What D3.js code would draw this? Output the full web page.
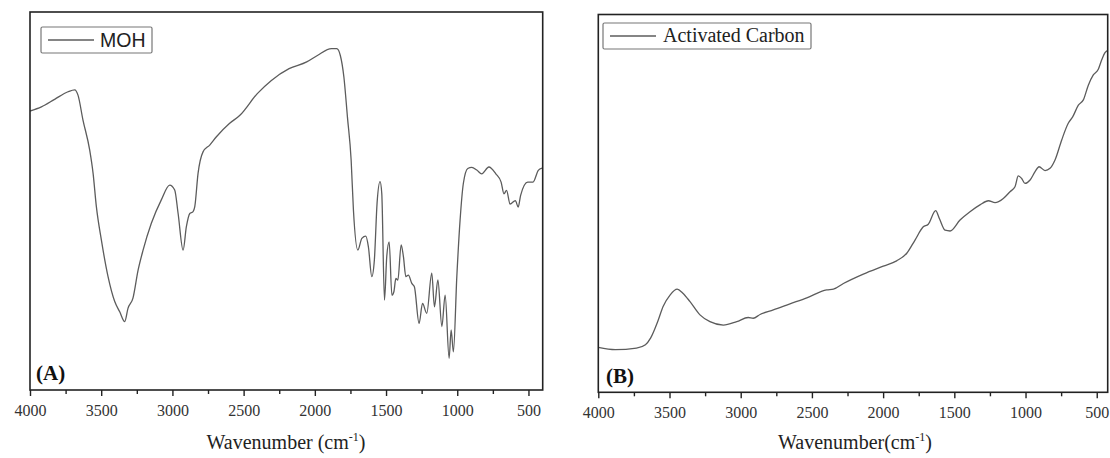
<!DOCTYPE html>
<html>
<head>
<meta charset="utf-8">
<script src="https://cdn.jsdelivr.net/npm/d3@7"></script>
<style>
  body { margin: 0; background: #fff; }
  svg { display: block; }
</style>
</head>
<body>
<div id="chart"></div>
<script>
// FTIR spectra, values are relative transmittance (0 = bottom of frame, 100 = top)
const MOH_WAVENUMBER = [4000, 3920, 3827, 3733, 3686, 3663, 3628, 3581, 3557, 3534, 3499, 3452, 3405, 3370, 3335, 3312, 3277, 3241, 3206, 3148, 3078, 3019, 2984, 2960, 2925, 2902, 2878, 2855, 2843, 2820, 2785, 2738, 2691, 2600, 2528, 2404, 2305, 2181, 2057, 1982, 1883, 1846, 1821, 1796, 1771, 1745, 1729, 1698, 1670, 1642, 1624, 1600, 1582, 1563, 1542, 1530, 1511, 1495, 1478, 1459, 1445, 1431, 1417, 1394, 1378, 1361, 1343, 1319, 1301, 1268, 1244, 1214, 1179, 1160, 1136, 1108, 1085, 1057, 1043, 1027, 1003, 980, 957, 926, 898, 863, 828, 778, 729, 692, 672, 654, 629, 592, 572, 555, 505, 468, 431, 405];
const MOH_SIGNAL = [73.8, 74.9, 76.9, 78.9, 79.4, 78.0, 71.4, 63.5, 57.3, 48.5, 39.7, 30.0, 23.4, 20.7, 18.1, 21.6, 24.3, 31.7, 37.0, 44.1, 50.3, 54.2, 52.9, 46.7, 37.0, 43.2, 46.7, 47.2, 48.5, 57.3, 63.0, 64.8, 67.0, 70.5, 72.6, 78.4, 81.9, 85.0, 86.8, 88.5, 90.3, 90.3, 88.5, 82.8, 72.2, 60.8, 47.6, 37.0, 40.1, 40.7, 37.9, 30.0, 34.4, 49.4, 55.1, 52.0, 23.8, 35.3, 39.2, 25.1, 26.0, 29.5, 29.1, 38.4, 35.3, 30.0, 30.4, 28.2, 27.3, 17.6, 22.9, 20.3, 30.9, 22.0, 29.1, 16.8, 25.1, 8.4, 15.9, 10.1, 30.0, 45.0, 54.7, 58.6, 58.9, 58.2, 57.2, 59.0, 57.2, 55.0, 51.9, 52.8, 49.2, 50.1, 48.4, 51.5, 55.0, 55.0, 58.1, 58.7];

const AC_WAVENUMBER = [4000, 3881, 3732, 3669, 3632, 3582, 3545, 3495, 3446, 3408, 3356, 3286, 3216, 3122, 3028, 2947, 2912, 2864, 2771, 2654, 2536, 2396, 2349, 2279, 2139, 1999, 1905, 1834, 1776, 1718, 1683, 1631, 1605, 1565, 1530, 1460, 1390, 1320, 1261, 1214, 1156, 1109, 1074, 1051, 1027, 1004, 968, 933, 905, 863, 828, 793, 746, 700, 669, 629, 594, 559, 524, 489, 465, 442, 418];
const AC_SIGNAL = [11.9, 11.3, 11.7, 12.6, 14.4, 18.8, 22.7, 25.8, 27.3, 26.3, 24.0, 20.5, 18.7, 17.8, 18.7, 19.8, 19.6, 20.6, 21.8, 23.4, 25.0, 27.1, 27.3, 28.8, 31.3, 33.4, 34.8, 36.8, 40.3, 43.8, 44.5, 48.1, 46.0, 42.9, 42.7, 45.6, 47.8, 49.6, 50.7, 50.2, 51.3, 53.1, 54.4, 57.3, 56.6, 55.3, 56.2, 58.4, 59.7, 58.7, 59.3, 61.5, 66.8, 71.2, 72.9, 76.0, 77.4, 81.3, 84.0, 85.5, 88.0, 89.9, 90.6];

const MAJOR_TICKS = [4000, 3500, 3000, 2500, 2000, 1500, 1000, 500];
const MINOR_TICKS = [3750, 3250, 2750, 2250, 1750, 1250, 750];

const WIDTH = 1110, HEIGHT = 458;
const SERIF = '"Liberation Serif", "Times New Roman", serif';
const SANS = '"Liberation Sans", Arial, sans-serif';

const SVG = d3.select('#chart')
    .append('svg')
    .attr('width', WIDTH)
    .attr('height', HEIGHT);

const PANELS = [
    { id: 'A', wn: MOH_WAVENUMBER, sig: MOH_SIGNAL, left: 30, right: 542.7, top: 12, bottom: 390, end: 400,
      legend: 'MOH', legendFont: SANS, legendSize: 19.5, box: [41, 27, 111, 26], legendText: 100, legendBase: 47,
      title: 'Wavenumber (cm', titleX: 286, tag: '(A)', tagX: 36, tagY: 380, tickBase: 26 },
    { id: 'B', wn: AC_WAVENUMBER, sig: AC_SIGNAL, left: 598.3, right: 1107.7, top: 14.5, bottom: 392.3, end: 423,
      legend: 'Activated Carbon', legendFont: SERIF, legendSize: 20, box: [603, 23, 208, 26], legendText: 663, legendBase: 42,
      title: 'Wavenumber(cm', titleX: 855, tag: '(B)', tagX: 606, tagY: 383, tickBase: 26 }
];

PANELS.forEach(drawPanel);

function drawPanel(p) {
    const x = d3.scaleLinear().domain([4000, p.end]).range([p.left, p.right]);
    const y = d3.scaleLinear().domain([0, 100]).range([p.bottom, p.top]);
    const g = SVG.append('g').attr('id', 'panel_' + p.id);

    g.append('clipPath').attr('id', 'clip_' + p.id)
        .append('rect')
        .attr('x', p.left).attr('y', p.top)
        .attr('width', p.right - p.left).attr('height', p.bottom - p.top);

    // spectrum
    const line = d3.line()
        .x((d, i) => x(p.wn[i]))
        .y(d => y(d))
        .curve(d3.curveMonotoneX);

    g.append('path')
        .datum(p.sig)
        .attr('clip-path', 'url(#clip_' + p.id + ')')
        .attr('fill', 'none')
        .attr('stroke', '#5c5c5c')
        .attr('stroke-width', 1.3)
        .attr('d', line);

    // minor ticks
    g.append('g')
        .attr('transform', `translate(0,${p.bottom})`)
        .call(d3.axisBottom(x).tickValues(MINOR_TICKS).tickSize(4).tickFormat(''))
        .call(a => a.select('.domain').remove())
        .call(a => a.selectAll('line').attr('stroke', '#222').attr('stroke-width', 1.4));

    // major ticks + labels
    g.append('g')
        .attr('transform', `translate(0,${p.bottom})`)
        .call(d3.axisBottom(x).tickValues(MAJOR_TICKS).tickSize(6).tickPadding(5).tickFormat(d3.format('d')))
        .call(a => a.select('.domain').remove())
        .call(a => a.selectAll('line').attr('stroke', '#222').attr('stroke-width', 1.4))
        .call(a => a.selectAll('text')
            .attr('font-family', SERIF)
            .attr('font-size', 16)
            .attr('fill', '#333')
            .attr('dy', null)
            .attr('y', p.tickBase));

    // frame
    g.append('rect')
        .attr('x', p.left).attr('y', p.top)
        .attr('width', p.right - p.left).attr('height', p.bottom - p.top)
        .attr('fill', 'none')
        .attr('stroke', '#222')
        .attr('stroke-width', 1.6);

    // legend
    g.append('rect')
        .attr('x', p.box[0]).attr('y', p.box[1])
        .attr('width', p.box[2]).attr('height', p.box[3])
        .attr('rx', 1.5)
        .attr('fill', '#fff')
        .attr('stroke', '#777')
        .attr('stroke-width', 1.2);

    g.append('line')
        .attr('x1', p.box[0] + 7).attr('x2', p.box[0] + 53)
        .attr('y1', p.box[1] + p.box[3] / 2).attr('y2', p.box[1] + p.box[3] / 2)
        .attr('stroke', '#5c5c5c')
        .attr('stroke-width', 1.3);

    g.append('text')
        .attr('x', p.legendText).attr('y', p.legendBase)
        .attr('font-family', p.legendFont)
        .attr('font-size', p.legendSize)
        .attr('fill', '#222')
        .text(p.legend);

    // panel tag
    g.append('text')
        .attr('x', p.tagX).attr('y', p.tagY)
        .attr('font-family', SERIF)
        .attr('font-weight', 'bold')
        .attr('font-size', 21)
        .attr('fill', '#111')
        .text(p.tag);

    // axis title
    const t = g.append('text')
        .attr('x', p.titleX).attr('y', 449)
        .attr('text-anchor', 'middle')
        .attr('font-family', SERIF)
        .attr('font-size', 20)
        .attr('fill', '#222');
    t.append('tspan').text(p.title);
    t.append('tspan').attr('font-size', 12).attr('dy', -8).text('-1');
    t.append('tspan').attr('dy', 8).text(')');
}
</script>
</body>
</html>
